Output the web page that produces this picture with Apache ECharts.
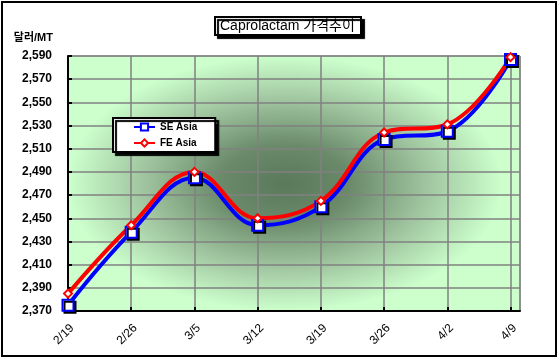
<!DOCTYPE html>
<html><head><meta charset="utf-8">
<script src="https://cdn.jsdelivr.net/npm/echarts@6/dist/echarts.min.js"></script>
<style>html,body{margin:0;padding:0;background:#fff}#c{width:558px;height:360px}</style>
</head><body><div id="c"></div>
<script>
const categories = ['2/19','2/26','3/5','3/12','3/19','3/26','4/2','4/9'];
const seAsia = [2375, 2438, 2485, 2444, 2460, 2518, 2525, 2587];
const feAsia = [2385, 2444, 2490, 2450, 2465, 2524, 2531, 2589];
const yMin = 2370, yMax = 2590, yStep = 20;

const font = 'Liberation Sans, Arial, Noto Sans CJK KR, sans-serif';
const chart = echarts.init(document.getElementById('c'), null, {renderer:'canvas'});
const toPairs = arr => arr.map((v,i)=>[i,v]);
chart.setOption({
  animation:false,
  backgroundColor:'#fff',
  title:{
    text:'Caprolactam 가격추이', left:215, top:17,
    padding:[2,6,2,5],
    borderColor:'#000', borderWidth:2, backgroundColor:'#fff',
    shadowColor:'#000', shadowOffsetX:3, shadowOffsetY:3, shadowBlur:1,
    textStyle:{fontFamily:font, fontSize:14, fontWeight:'normal', color:'#000'}
  },
  legend:{
    orient:'vertical', left:113, top:118,
    padding:[4,18,4,20], itemWidth:21, itemHeight:9, itemGap:6,
    borderColor:'#000', borderWidth:2, backgroundColor:'#fff',
    shadowColor:'#000', shadowOffsetX:3, shadowOffsetY:3, shadowBlur:1,
    textStyle:{fontFamily:font, fontSize:10, fontWeight:'bold', color:'#000'},
    data:['SE Asia','FE Asia']
  },
  grid:{
    left:68, right:38, top:56, bottom:49, show:true,
    borderColor:'#808080', borderWidth:1, backgroundColor:'transparent'
  },
  xAxis:{
    type:'value', min:0, max:7.15, interval:1,
    axisLine:{show:true, onZero:false, lineStyle:{color:'#000', width:2}},
    axisTick:{show:true, inside:true, length:4, lineStyle:{color:'#000', width:2}},
    splitLine:{show:true, lineStyle:{color:'#808080', width:1.5}},
    axisLabel:{rotate:45, margin:11, verticalAlign:'top', fontFamily:font, fontSize:12, color:'#000',
      showMaxLabel:false,
      formatter:v => Number.isInteger(v) && categories[v] ? categories[v] : ''}
  },
  yAxis:{
    type:'value', min:yMin, max:yMax, interval:yStep,
    name:'달러/MT', nameLocation:'end', nameGap:18,
    nameTextStyle:{fontFamily:font, fontSize:11, fontWeight:'bold', color:'#000', align:'right', verticalAlign:'middle', padding:[0,15,0,0]},
    axisLine:{show:true, lineStyle:{color:'#000', width:2}},
    axisTick:{show:true, inside:true, length:4, lineStyle:{color:'#000', width:2}},
    splitLine:{show:true, lineStyle:{color:'#808080', width:1.5}},
    axisLabel:{margin:16, fontFamily:font, fontSize:12, fontWeight:'bold', color:'#000',
      formatter:v => v.toLocaleString('en-US')}
  },
  series:[
    {name:'SE Asia', type:'line', smooth:0.4, data:toPairs(seAsia),
      symbol:'rect', symbolSize:11,
      lineStyle:{color:'#0000ff', width:4},
      itemStyle:{color:'#fff', borderColor:'#0000ff', borderWidth:2, shadowColor:'#000', shadowOffsetX:2, shadowOffsetY:2}},
    {name:'FE Asia', type:'line', smooth:0.4, data:toPairs(feAsia),
      symbol:'diamond', symbolSize:8,
      lineStyle:{color:'#ff0000', width:4},
      itemStyle:{color:'#fff', borderColor:'#ff0000', borderWidth:2}}
  ]
});
// plot-area background (light green with dark soft centre), placed from the grid's own rect
const rect = chart.getModel().getComponent('grid').coordinateSystem.getRect();
const ry = rect.height * 0.5, rx = rect.width * 0.48;
chart.setOption({
  graphic:[
    {type:'rect', silent:true, z:-10, shape:{x:rect.x, y:rect.y, width:rect.width, height:rect.height},
      style:{fill:'#ccffcc'}},
    {type:'circle', silent:true, z:-9,
      x:rect.x + rect.width*0.48, y:rect.y + rect.height*0.5, scaleX: rx/ry,
      shape:{cx:0, cy:0, r:ry},
      style:{fill:{type:'radial', x:0.5, y:0.5, r:0.5,
        colorStops:[{offset:0,color:'#5a785a'},{offset:0.3,color:'#6a8a6a'},{offset:0.65,color:'#9fc49f'},{offset:1,color:'#ccffcc'}]}}},
    {type:'rect', silent:true, z:100, shape:{x:2,y:2,width:554,height:354},
      style:{fill:'none', stroke:'#000', lineWidth:2}}
  ]
});
</script></body></html>
